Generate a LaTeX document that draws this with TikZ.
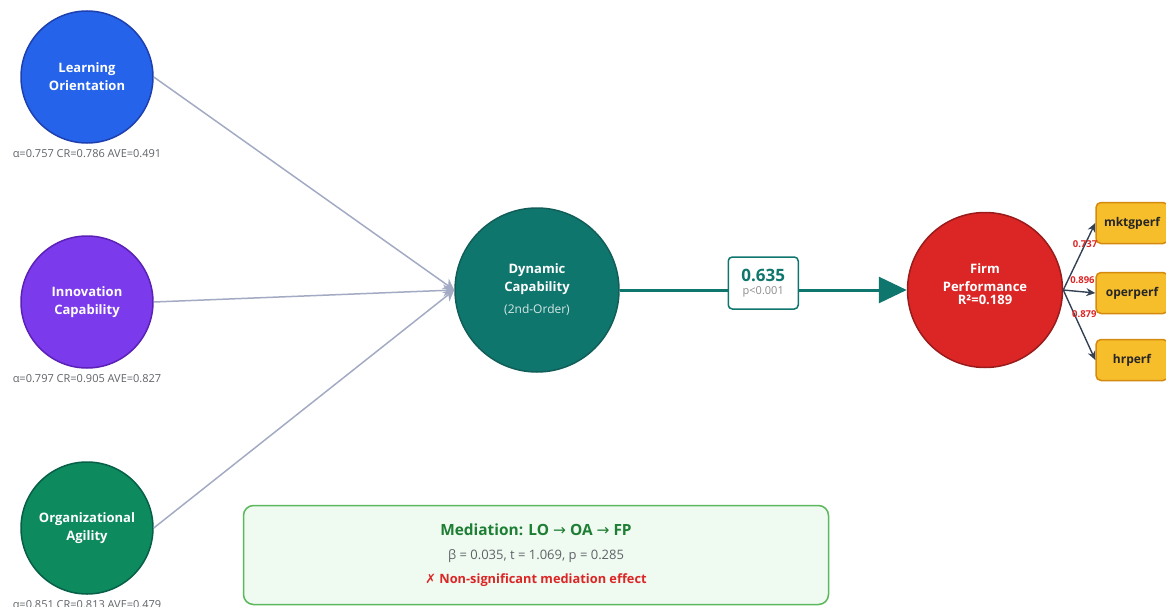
\documentclass[tikz,border=0pt]{standalone}
\usepackage{fontspec}
\setmainfont{Open Sans}
\newfontfamily\symfont{DejaVu Sans}
\usetikzlibrary{arrows.meta}
\usetikzlibrary{positioning}
\definecolor{loblue}{HTML}{2563EB}
\definecolor{loedge}{HTML}{1E40AF}
\definecolor{icpurple}{HTML}{7C3AED}
\definecolor{icedge}{HTML}{5B21B6}
\definecolor{oagreen}{HTML}{0E8A5F}
\definecolor{oaedge}{HTML}{065F46}
\definecolor{dcteal}{HTML}{0F766E}
\definecolor{dcedge}{HTML}{115E59}
\definecolor{fpred}{HTML}{DC2626}
\definecolor{fpedge}{HTML}{991B1B}
\definecolor{feedgray}{HTML}{A3ABC4}
\definecolor{slate}{HTML}{334155}
\definecolor{indfill}{HTML}{F7BE2C}
\definecolor{indedge}{HTML}{D4890F}
\definecolor{notegray}{HTML}{5F6368}
\definecolor{medfill}{HTML}{EFFAF1}
\definecolor{mededge}{HTML}{5CB85C}
\definecolor{medgreen}{HTML}{1E7E34}
\tikzset{
    latent/.style = {circle,draw,line width=1.5pt,minimum size=132pt,inner sep=0,
        text=white,align=center,font=\bfseries\fontsize{13}{18}\selectfont},
    fitnote/.style = {text=notegray,inner sep=0,font=\fontsize{11}{13}\selectfont},
    feed/.style = {draw=feedgray,line width=1.5pt,-{Stealth[length=11pt,width=12pt]}},
    effect/.style = {draw=dcteal,line width=3pt,-{Triangle[length=28pt,width=26pt]}},
    coefbox/.style = {draw=dcteal,fill=white,line width=1.5pt,rounded corners=4pt,
        minimum width=70pt,minimum height=52pt,inner sep=0,align=center},
    loading/.style = {draw=slate,line width=1.4pt,-{Stealth[length=9pt,width=8pt]}},
    loadval/.style = {text=fpred,inner sep=0,font=\bfseries\fontsize{9.5}{11}\selectfont},
    indicator/.style = {draw=indedge,fill=indfill,line width=1.5pt,rounded corners=5pt,
        minimum width=72pt,minimum height=41pt,text=black!85,font=\bfseries\fontsize{12}{14}\selectfont},
    medbox/.style = {draw=mededge,fill=medfill,line width=1.5pt,rounded corners=10pt,
        minimum width=585pt,minimum height=99pt,align=center,font=\fontsize{13}{24}\selectfont}
}

\begin{document}
\begin{tikzpicture}[x=1pt,y=-1pt]
        \newcommand*\rowgap{225}
        \useasboundingbox (0,0) rectangle (1166,607);
        % First-order constructs
        \path (87,77) node[latent,fill=loblue,draw=loedge,
                label={[fitnote,label distance=6pt]below:{α=0.757 CR=0.786 AVE=0.491}}
            ] (LO) {Learning\\Orientation}
            to +(0,\rowgap) node[latent,fill=icpurple,draw=icedge,
                label={[fitnote,label distance=6pt]below:{α=0.797 CR=0.905 AVE=0.827}}
            ] (IC) {Innovation\\Capability}
            to +(0,2*\rowgap+1) node[latent,fill=oagreen,draw=oaedge,
                label={[fitnote,label distance=6pt]below:{α=0.851 CR=0.813 AVE=0.479}}
            ] (OA) {Organizational\\Agility}
        ;
        % Second-order and outcome
        \path (537,290) node[latent,minimum size=164pt,fill=dcteal,draw=dcedge] (DC)
                {Dynamic\\Capability\\[4pt]{\mdseries\fontsize{12}{14}\selectfont\color{white!82!dcteal}(2nd-Order)}}
            to +(448,0) node[latent,minimum size=155pt,fill=fpred,draw=fpedge] (FP)
                {Firm\\Performance\\[-5pt]R²=0.189\\[-6pt]\mbox{}}
        ;
        % Indicators
        \path (1132,223) node[indicator] (mk) {mktgperf}
            to +(0,70) node[indicator] (op) {operperf}
            to +(0,137) node[indicator] (hr) {hrperf}
        ;
        % Paths
        \foreach \src in {LO,IC,OA}
            \draw[feed] (\src.east) to (DC.west);
        \draw[effect] (DC) to node[coefbox,yshift=7pt] (coef)
            {{\color{dcteal}\bfseries\fontsize{17}{20}\selectfont 0.635}\\[1pt]%
             {\color{black!45}\fontsize{11}{13}\selectfont p<0.001}} (FP);
        % Loadings
        \draw[loading] (FP.east) to node[loadval,pos=0.68] (l1) {0.737} (mk.west);
        \draw[loading] (FP.east) to node[loadval,pos=0.6,above=7pt] (l2) {0.896} (op.west);
        \draw[loading] (FP.east) to node[loadval,pos=0.35,anchor=west,xshift=-3pt] (l3) {0.879} (hr.west);
        % Mediation note
        \node[medbox] (med) at (536,555) {%
            {\color{medgreen}\bfseries\fontsize{15.4}{24}\selectfont Mediation: LO {\symfont\mdseries →} OA {\symfont\mdseries →} FP}\\
            {\color{notegray}β = 0.035, t = 1.069, p = 0.285}\\
            {\color{fpred}\bfseries\fontsize{12.8}{24}\selectfont{\symfont\mdseries ✗} Non-significant mediation effect}};
    \end{tikzpicture}
\end{document}
